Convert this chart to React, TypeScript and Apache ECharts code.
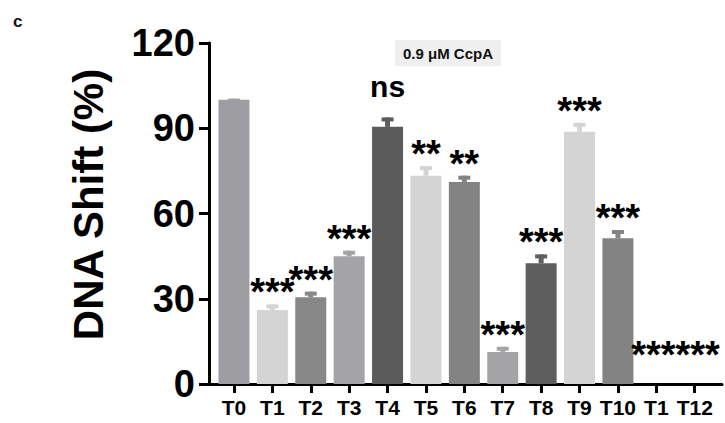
import React, { useEffect, useRef } from "react";
import * as echarts from "echarts";

const categories = ["T0", "T1", "T2", "T3", "T4", "T5", "T6", "T7", "T8", "T9", "T10", "T1", "T12"];
const values = [100, 26, 30.5, 45, 90.5, 73.3, 71.1, 11.3, 42.5, 88.8, 51.3, 0, 0];
const errors = [0.4, 2, 2, 1.9, 3.3, 3.4, 2.2, 1.8, 3.1, 3.1, 2.9, 0, 0];
const significance = ["", "***", "***", "***", "ns", "**", "**", "***", "***", "***", "***", "***", "***"];
const barColors = ["#9e9ea2", "#d4d4d4", "#878787", "#a4a4a7", "#5b5b5b", "#d4d4d4", "#838383", "#a4a4a7", "#5e5e5e", "#d4d4d4", "#838383", "#9e9ea2", "#d4d4d4"];
const yTicks = { min: 0, max: 120, interval: 30 };
const condition = "0.9 μM CcpA";
const panelLetter = "c";

const FONT = "'Liberation Sans', Arial, Helvetica, sans-serif";

export default function App() {
  const ref = useRef<HTMLDivElement>(null);
  useEffect(() => {
    if (!ref.current) return;
    const chart = echarts.init(ref.current, null, { renderer: "svg" });
    const idx = categories.map((_, i) => i);
    const anchors = values.map((v, i) => Math.max(v + errors[i], 6));
    const option: any = {
      animation: false,
      backgroundColor: "#ffffff",
      title: [
        {
          text: condition,
          left: 395,
          top: 40,
          padding: [6, 8, 5, 8],
          backgroundColor: "#efefef",
          textStyle: { fontFamily: FONT, fontWeight: "bold", fontSize: 15, color: "#111" },
        },
        {
          text: panelLetter,
          left: 13,
          top: 13,
          padding: 0,
          textStyle: { fontFamily: FONT, fontWeight: "bold", fontSize: 17, color: "#111" },
        },
      ],
      grid: { left: 209, right: 3, top: 43, bottom: 39, containLabel: false },
      xAxis: {
        type: "value",
        min: -0.65,
        max: 12.71,
        splitLine: { show: false },
        axisLine: { show: true, onZero: false, lineStyle: { color: "#000", width: 3 } },
        axisTick: { show: true, customValues: idx, length: 9, lineStyle: { color: "#000", width: 3 } },
        axisLabel: {
          customValues: idx,
          formatter: (v: number) => categories[Math.round(v)],
          fontFamily: FONT,
          fontWeight: "bold",
          fontSize: 21,
          color: "#000",
          margin: 13,
        },
      },
      yAxis: {
        type: "value",
        min: yTicks.min,
        max: yTicks.max,
        interval: yTicks.interval,
        name: "DNA Shift (%)",
        nameLocation: "middle",
        nameRotate: 90,
        nameGap: 100,
        nameTextStyle: { fontFamily: FONT, fontWeight: "bold", fontSize: 42, color: "#000", padding: [0, 0, 0, 18] },
        splitLine: { show: false },
        axisLine: { show: true, onZero: false, lineStyle: { color: "#000", width: 3 } },
        axisTick: { show: true, length: 10, lineStyle: { color: "#000", width: 3 } },
        axisLabel: { fontFamily: FONT, fontWeight: "bold", fontSize: 38, color: "#000", margin: 14 },
      },
      series: [
        {
          type: "bar",
          barWidth: 31,
          data: values.map((v, i) => ({ value: [i, v], itemStyle: { color: barColors[i] } })),
        },
        {
          type: "custom",
          data: values.map((v, i) => [i, v, v + errors[i]]),
          renderItem: (params: any, api: any) => {
            const i = api.value(0);
            const v = api.value(1);
            const e = api.value(2);
            if (e <= v) return null;
            const pb = api.coord([i, v]);
            const pt = api.coord([i, e]);
            const color = barColors[params.dataIndex];
            return {
              type: "group",
              children: [
                { type: "rect", shape: { x: pb[0] - 2.5, y: pt[1], width: 5, height: pb[1] - pt[1] }, style: { fill: color } },
                { type: "rect", shape: { x: pb[0] - 6, y: pt[1], width: 12, height: 4 }, style: { fill: color } },
              ],
            };
          },
          z: 3,
        },
        {
          type: "custom",
          data: anchors.map((a, i) => [i, a]),
          renderItem: (params: any, api: any) => {
            const k = params.dataIndex;
            const s = significance[k];
            if (!s) return null;
            const i = api.value(0);
            const a = api.value(1);
            const p = api.coord([i, a]);
            const isNs = s === "ns";
            let x = p[0];
            let align = "center";
            const sameNext = k + 1 < anchors.length && significance[k + 1] && anchors[k + 1] === a;
            const samePrev = k > 0 && significance[k - 1] && anchors[k - 1] === a;
            if (sameNext) {
              x = api.coord([i + 0.5, a])[0];
              align = "right";
            } else if (samePrev) {
              x = api.coord([i - 0.5, a])[0];
              align = "left";
            }
            return {
              type: "text",
              x,
              y: p[1] - (isNs ? 31 : 12),
              style: {
                text: s,
                fontFamily: FONT,
                fontWeight: "bold",
                fontSize: isNs ? 30 : 38,
                lineHeight: isNs ? 24 : 12,
                fill: "#000",
                align,
                verticalAlign: "middle",
              },
            };
          },
          z: 4,
        },
      ],
    };
    chart.setOption(option);
    return () => chart.dispose();
  }, []);
  return <div ref={ref} style={{ position: "absolute", left: 0, top: 0, width: 725, height: 423 }} />;
}
